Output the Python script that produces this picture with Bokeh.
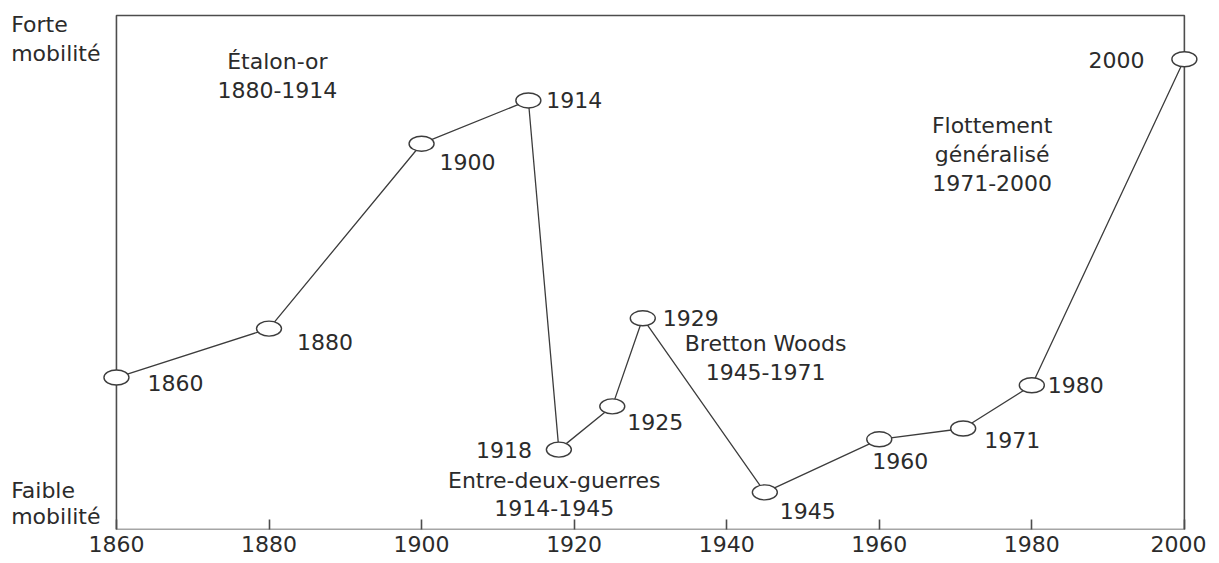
from bokeh.plotting import figure
from bokeh.models import ColumnDataSource, BoxAnnotation, FixedTicker, Range1d
from bokeh.core.properties import value
from bokeh.embed import file_html
from bokeh.resources import INLINE

# ---- data (y = relative capital mobility, 0..100) ----
years = [1860, 1880, 1900, 1914, 1918, 1925, 1929, 1945, 1960, 1971, 1980, 2000]
mobility = [29.7, 39.2, 75.1, 83.5, 15.7, 24.1, 41.2, 7.4, 17.7, 19.8, 28.2, 91.5]
point_labels = [str(y) for y in years]
x_ticks = [1860, 1880, 1900, 1920, 1940, 1960, 1980, 2000]

era_texts = ["Étalon-or\n1880-1914", "Entre-deux-guerres\n1914-1945",
             "Bretton Woods\n1945-1971", "Flottement\ngénéralisé\n1971-2000"]
era_x = [1881.1, 1917.4, 1945.1, 1974.8]
era_y = [88.3, 7.0, 33.5, 73.0]

top_text = ["Forte\nmobilité"]
bottom_text = ["Faible\nmobilité"]
side_x = [1846.2]
top_y = [95.5]
bottom_y = [5.3]

# ---- styling (label placement in screen pixels) ----
lab_dx = [31, 28, 18, 18, -27, 15, 20, 15, -7, 21, 16, -40]
lab_dy = [5, 13, 18, 0, 0, 16, 0, 19, 22, 11, 0, 1]
lab_align = ["left", "left", "left", "left", "right", "left", "left", "left",
             "left", "left", "left", "right"]

FONT = "DejaVu Sans"
FS = "22px"
TXT = "#2b2b2b"
LINE = "#3c3c3c"
FRAME = "#4d4d4d"
Y0 = 0.19

# the plotting frame covers the whole canvas width so that side texts are not clipped;
# the visible chart box (1860..2000 × 0..100) is drawn as a BoxAnnotation
p = figure(width=1206, height=560, output_backend="svg", toolbar_location=None,
           x_range=Range1d(1844.8, 2002.9), y_range=Range1d(Y0, 102.91),
           y_axis_location=None, min_border_left=0, min_border_right=0,
           min_border_top=0, min_border_bottom=31)
p.outline_line_color = None
p.grid.visible = False
p.background_fill_color = "white"
p.border_fill_color = "white"

box = BoxAnnotation(left=x_ticks[0], right=x_ticks[-1], bottom=Y0, top=100,
                    fill_alpha=0, line_color=FRAME, line_alpha=1.0, line_width=1.6,
                    level="underlay")
p.add_layout(box)

ax = p.xaxis[0]
ax.ticker = FixedTicker(ticks=x_ticks)
ax.axis_line_color = None
ax.major_tick_in = 10
ax.major_tick_out = 0
ax.major_tick_line_color = FRAME
ax.major_tick_line_width = 1.6
ax.minor_tick_line_color = None
ax.major_label_standoff = 6
ax.major_label_text_font = FONT
ax.major_label_text_font_size = FS
ax.major_label_text_color = TXT

src = ColumnDataSource(dict(x=years, y=mobility, lab=point_labels,
                            dx=lab_dx, dy=lab_dy, al=lab_align))

p.line("x", "y", source=src, line_color=LINE, line_width=1.3)
p.ellipse("x", "y", source=src, width=25, height=15, width_units="screen",
          height_units="screen", fill_color="white", line_color=LINE, line_width=1.4)
p.text("x", "y", text="lab", source=src, x_offset="dx", y_offset="dy",
       text_align="al", text_baseline="middle", text_font=value(FONT),
       text_font_size=FS, text_color=TXT)

esrc = ColumnDataSource(dict(x=era_x, y=era_y, t=era_texts))
p.text("x", "y", text="t", source=esrc, text_align="center", text_baseline="middle",
       text_font=value(FONT), text_font_size=FS, text_color=TXT, text_line_height=1.15)

p.text(side_x, top_y, text=top_text, text_align="left", text_baseline="middle",
       text_font=value(FONT), text_font_size=FS, text_color=TXT, text_line_height=1.15)
p.text(side_x, bottom_y, text=bottom_text, text_align="left", text_baseline="middle",
       text_font=value(FONT), text_font_size=FS, text_color=TXT, text_line_height=1.045)

open("out.html", "w").write(file_html(p, INLINE))
